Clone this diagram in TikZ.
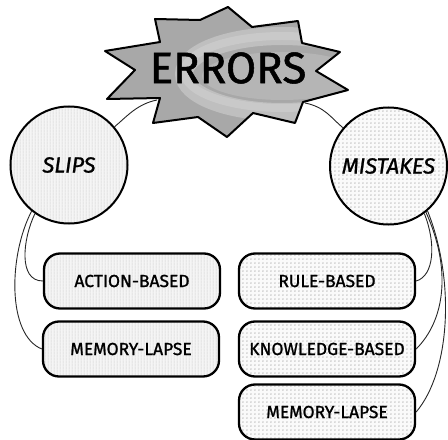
\documentclass[tikz,border=0pt]{standalone}
\usepackage{fontspec}
\setmainfont{Fira Sans}[FakeBold=1.2]
\usetikzlibrary{patterns.meta}
\tikzdeclarepattern{name=vlines, type=uncolored,
  bounding box={(0bp,0bp) and (2.6bp,2.6bp)}, tile size={(2.6bp,2.6bp)},
  code={\pgfsetlinewidth{0.7bp}\pgfpathmoveto{\pgfqpoint{1.3bp}{-0.5bp}}\pgfpathlineto{\pgfqpoint{1.3bp}{3.1bp}}\pgfusepath{stroke}}}
\tikzdeclarepattern{name=mdots, type=uncolored,
  bounding box={(0bp,0bp) and (4.4bp,4.4bp)}, tile size={(4.4bp,4.4bp)},
  code={\pgfpathcircle{\pgfqpoint{2.2bp}{2.2bp}}{1.05bp}\pgfusepath{fill}}}
\begin{document}
\begin{tikzpicture}[x=1bp,y=-1bp,
  slipfill/.style={preaction={fill=gray!8}, pattern=vlines, pattern color=gray!38},
  mistfill/.style={preaction={fill=gray!4}, pattern=mdots, pattern color=gray!40},
  bubble/.style={circle, draw=black, line width=2bp, minimum size=117bp, inner sep=0pt,
    font=\fontsize{22}{22}\selectfont\itshape},
  box/.style={rounded corners=16bp, draw=black, line width=2.3bp, minimum width=176bp,
    minimum height=55bp, inner sep=0pt, font=\fontsize{17.5}{17.5}\selectfont},
  link/.style={draw=black!85, line width=0.9bp},
  starline/.style={draw=black, line width=2bp, line join=round}]
\useasboundingbox (0,0) rectangle (448,440);

% nodes
\node[bubble, slipfill] (slips) at (69,165) {SLIPS};
\node[bubble, mistfill] (mist) at (388.5,166) {MISTAKES};
\node[box, slipfill] (act) at (132,281) {ACTION-BASED};
\node[box, slipfill] (meml) at (131,349) {MEMORY-LAPSE};
\node[box, mistfill] (rule) at (327,281) {RULE-BASED};
\node[box, mistfill] (know) at (327,349) {KNOWLEDGE-BASED};
\node[box, mistfill] (memr) at (327,412) {MEMORY-LAPSE};

\coordinate (starL) at (157,100);
\coordinate (starR) at (305,103);

% connectors
\draw[link] (starL) .. controls +(-20,4) and +(12,-10) .. (slips.40);
\draw[link] (starR) .. controls +(20,4) and +(-12,-10) .. (mist.140);
\draw[link] (slips.235) .. controls +(-12,25) and +(-25,0) .. (act.west);
\draw[link] (slips.231) .. controls +(-23,44) and +(-35,-14) .. (meml.west);
\draw[link] (mist.307) .. controls +(12,30) and +(18,-5) .. (rule.east);
\draw[link] (mist.309) .. controls +(25,55) and +(30,-30) .. (know.east);
\draw[link] (mist.311) .. controls +(28,70) and +(34,-40) .. (memr.east);

% starburst
\def\starpath{(228,7) -- (252,27) -- (298,21) -- (302,43) -- (340,52) -- (316,71) -- (348,90) -- (303,102) -- (295,123) -- (253,113) -- (227,137) -- (198,117) -- (153,123) -- (160,98) -- (107,99) -- (135,70) -- (105,51) -- (160,42) -- (155,19) -- (200,20) -- cycle}
\begin{scope}
\clip \starpath;
\fill[gray!68] (90,0) rectangle (360,140);
\draw[gray!50, line width=18bp] (282,74) ellipse [x radius=98, y radius=38];
\draw[gray!42, line width=8bp] (282,72) ellipse [x radius=98, y radius=36];
\fill[gray!58] (282,76) ellipse [x radius=80, y radius=24];
\end{scope}
\draw[starline] \starpath;
\node[font=\fontsize{44}{44}\selectfont, inner sep=0pt] (err) at (228,68) {ERRORS};
\end{tikzpicture}
\end{document}
